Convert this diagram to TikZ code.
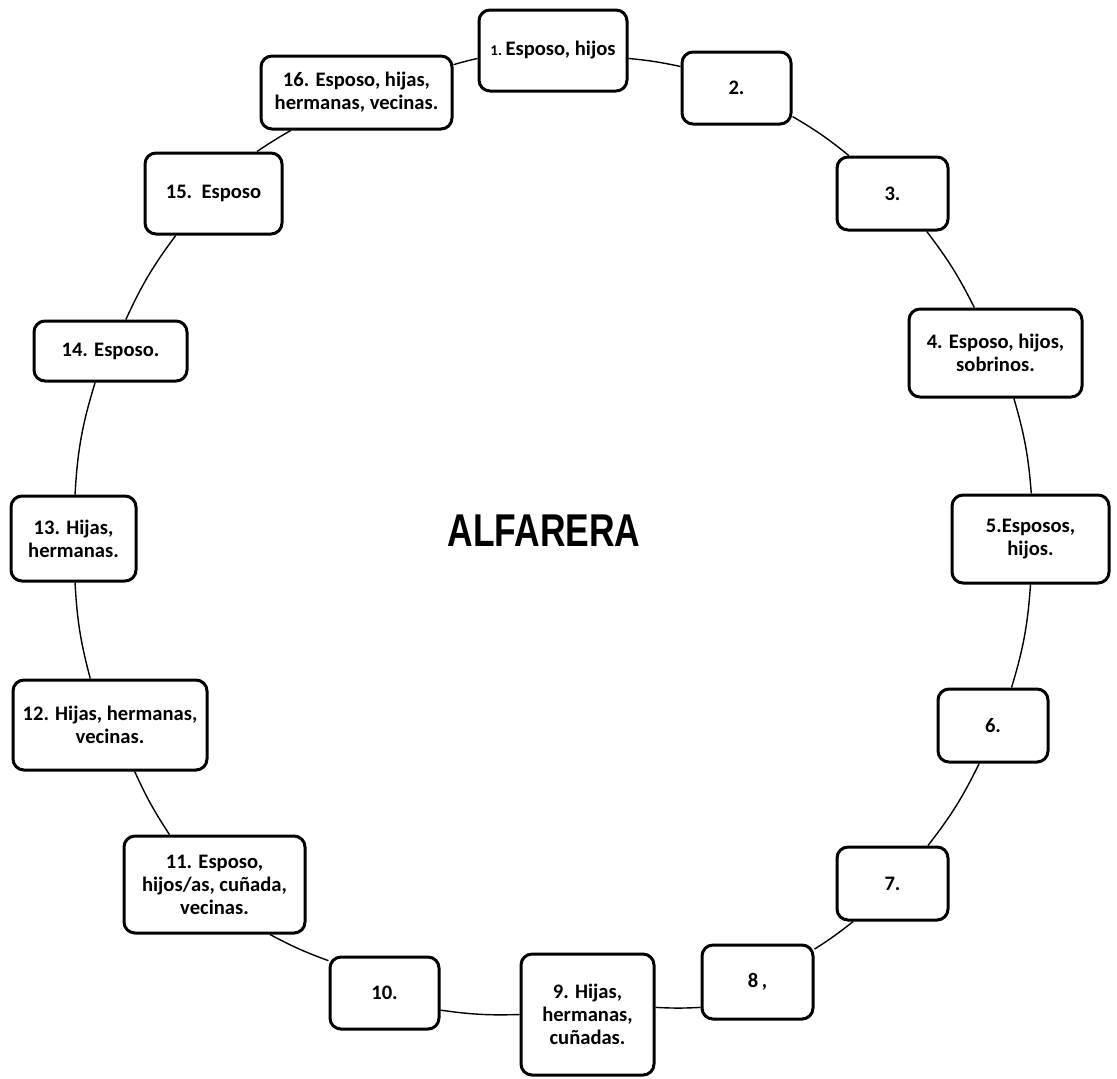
\documentclass[tikz,border=0pt]{standalone}
\usepackage{fontspec}
\usepackage{tikz}
\setmainfont{Carlito}
\newfontfamily\titlefont{Liberation Sans}[FakeStretch=0.77]

\begin{document}
\begin{tikzpicture}[x=0.5pt,y=0.5pt,
    caja/.style={draw,line width=1.5pt,rounded corners=5.5pt,fill=white,align=center,inner sep=0pt,
      font=\fontsize{10.3}{11.5}\selectfont\bfseries},
    enlace/.style={line width=0.7pt}]
        \useasboundingbox (0,0) rectangle (1117,-1078);
        \foreach \n/\x/\y/\w/\h/\t in {1/553/50.5/148/81/{{\fontsize{7.5}{8}\selectfont 1.}\,Esposo, hijos},
            2/736.5/88/109/72/{2.}, 3/892.5/193.5/111/73/{3.},
            4/995.5/353/173/88/{4. Esposo, hijos,\\sobrinos.}, 5/1030.5/539/157/88/{5.Esposos,\\hijos.},
            6/993/725.5/110/73/{6.}, 7/892.5/883.5/111/73/{7.}, 8/757.5/982/111/74/{8\,,},
            9/587.5/1014.5/133/121/{9. Hijas,\\hermanas,\\cuñadas.}, 10/384.5/993/109/72/{10.},
            11/214.5/884.5/181/97/{11. Esposo,\\hijos/as, cuñada,\\vecinas.},
            12/110/725/194/90/{12. Hijas, hermanas,\\vecinas.}, 13/73.5/538.5/125/85/{13. Hijas,\\hermanas.},
            14/110.5/351/153/60/{14. Esposo.}, 15/213.5/193.5/137/81/{15.~~Esposo},
            16/356.5/92.5/191/73/{16. Esposo, hijas,\\hermanas, vecinas.}}{
          \node[caja,minimum width=\w*0.5pt,minimum height=\h*0.5pt] (b\n) at (\x,-\y) {\t};}
        \foreach \a/\p/\b/\q/\k in {1/354/2/159/3.3, 2/333/3/139/4.4, 3/312/4/115/5.4, 4/292/5/89/5.9,
            5/270/6/64/6.4, 6/250/7/47/5.9, 7/224/8/30/3, 8/204/9/6/3, 9/180/10/343/4.9, 10/150/11/318/4,
            11/132/12/298/4.5, 12/113/13/272/5.9, 13/88/14/244/6.9, 14/64/15/228/6, 15/44/16/210/2, 16/16/1/186/1.7}{
          \draw[enlace] (b\a.\p) to[bend left=\k] (b\b.\q);}
        \node[font=\titlefont\bfseries\fontsize{23}{26}\selectfont] (centro) at (544,-531) {ALFARERA};
      \end{tikzpicture}
\end{document}
